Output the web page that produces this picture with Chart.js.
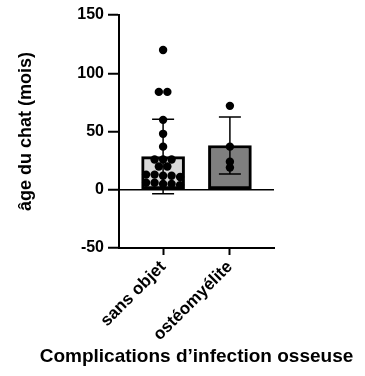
<!DOCTYPE html>
<html>
<head>
<meta charset="utf-8">
<script src="https://cdn.jsdelivr.net/npm/chart.js@4"></script>
<style>
  html, body { margin: 0; padding: 0; background: #fff; }
  #wrap { width: 365px; height: 376px; }
</style>
</head>
<body>
<div id="wrap"><canvas id="chart" width="365" height="376"></canvas></div>
<script>
// ---------------------------------------------------------------------------
// Data
// ---------------------------------------------------------------------------
const CATEGORIES = ["sans objet", "ostéomyélite"];
const MEANS = [28.5, 38];
const SDS = [32, 24.5];
const BAR_COLORS = ["#d9d9d9", "#7f7f7f"];
const POINTS_SANS_OBJET = [120, 84, 84, 60, 48, 37, 26, 26, 26, 20, 20, 13, 13, 12, 12, 11, 6, 6, 5, 5, 4];
const POINTS_OSTEO = [72, 37, 24, 19];
const Y_TICKS = [-50, 0, 50, 100, 150];
const X_TITLE = "Complications d\u2019infection osseuse";
const Y_TITLE = "âge du chat (mois)";

const FONT = "'Liberation Sans', Arial, sans-serif";
const DOT_PX = 8.5;

// ---------------------------------------------------------------------------
// Error bars drawn after the bar dataset, x title drawn without width limit
// ---------------------------------------------------------------------------
const errorBars = {
  id: "errorBars",
  afterDatasetDraw(chart, args) {
    if (args.index !== 0) return;
    const { ctx, scales: { x, y } } = chart;
    ctx.save();
    ctx.strokeStyle = "#000";
    ctx.lineWidth = 1.5;
    MEANS.forEach((m, i) => {
      const px = x.getPixelForValue(i);
      const top = y.getPixelForValue(m + SDS[i]);
      const bot = y.getPixelForValue(m - SDS[i]);
      ctx.beginPath();
      ctx.moveTo(px, top); ctx.lineTo(px, bot);
      ctx.moveTo(px - 11, top); ctx.lineTo(px + 11, top);
      ctx.moveTo(px - 11, bot); ctx.lineTo(px + 11, bot);
      ctx.stroke();
    });
    ctx.restore();
  }
};

const xTitle = {
  id: "xTitle",
  afterDraw(chart) {
    const { ctx, chartArea } = chart;
    ctx.save();
    ctx.fillStyle = "#000";
    ctx.font = "bold 19px " + FONT;
    ctx.textAlign = "center";
    ctx.textBaseline = "middle";
    ctx.fillText(X_TITLE, (chartArea.left + chartArea.right) / 2, chart.height - 19);
    ctx.restore();
  }
};

const chart = new Chart(document.getElementById("chart"), {
  data: {
    datasets: [
      {
        type: "bar",
        order: 2,
        data: MEANS.map((m, i) => ({ x: i, y: m })),
        backgroundColor: BAR_COLORS,
        borderColor: "#000",
        borderWidth: 3,
        borderSkipped: false,
        barThickness: 43,
      },
      {
        type: "scatter",
        order: 1,
        data: [],
        backgroundColor: "#000",
        borderWidth: 0,
        pointRadius: 4.2,
      }
    ]
  },
  options: {
    responsive: false,
    animation: false,
    events: [],
    layout: { padding: { left: 0, top: 15, right: 91, bottom: 0 } },
    plugins: { legend: { display: false }, tooltip: { enabled: false } },
    scales: {
      x: {
        type: "linear",
        offset: false,
        min: -0.66,
        max: 1.66,
        afterBuildTicks: s => { s.ticks = CATEGORIES.map((_, i) => ({ value: i })); },
        afterFit: s => { s.height = 128; },
        ticks: {
          autoSkip: false,
          minRotation: 45,
          maxRotation: 45,
          padding: 2,
          color: "#000",
          font: { family: FONT, size: 17, weight: "bold" },
          callback: v => CATEGORIES[v],
        },
        grid: { offset: false, drawOnChartArea: false, tickLength: 7, tickColor: "#000", tickWidth: 2 },
        border: { color: "#000", width: 2 },
      },
      y: {
        min: -50,
        max: 150,
        afterBuildTicks: s => { s.ticks = Y_TICKS.map(v => ({ value: v })); },
        afterFit: s => { s.width = 119; },
        ticks: {
          color: "#000",
          padding: 4,
          font: { family: FONT, size: 16, weight: "bold" },
        },
        grid: {
          drawOnChartArea: true,
          color: c => (c.tick && c.tick.value === 0 ? "#000" : "rgba(0,0,0,0)"),
          lineWidth: 1.5,
          tickLength: 11,
          tickColor: "#000",
          tickWidth: 2,
        },
        border: { color: "#000", width: 2 },
        title: {
          display: true,
          text: Y_TITLE,
          color: "#000",
          font: { family: FONT, size: 18, weight: "bold" },
          padding: { top: 15, bottom: 0 },
        },
      }
    }
  },
  plugins: [errorBars, xTitle]
});

// ---------------------------------------------------------------------------
// Scatter dots: group nearby values into rows and centre each row on its bar
// ---------------------------------------------------------------------------
function swarm(values, center) {
  const { x, y } = chart.scales;
  const cx = x.getPixelForValue(center);
  const sorted = [...values].sort((a, b) => b - a);
  const rows = [];
  for (const v of sorted) {
    const row = rows[rows.length - 1];
    if (row && Math.abs(y.getPixelForValue(row[0]) - y.getPixelForValue(v)) < 4) row.push(v);
    else rows.push([v]);
  }
  const out = [];
  for (const row of rows) {
    row.forEach((v, j) => {
      const dx = (j - (row.length - 1) / 2) * DOT_PX;
      out.push({ x: x.getValueForPixel(cx + dx), y: v });
    });
  }
  return out;
}

chart.data.datasets[1].data = [
  ...swarm(POINTS_SANS_OBJET, 0),
  ...swarm(POINTS_OSTEO, 1),
];
chart.update();
</script>
</body>
</html>
